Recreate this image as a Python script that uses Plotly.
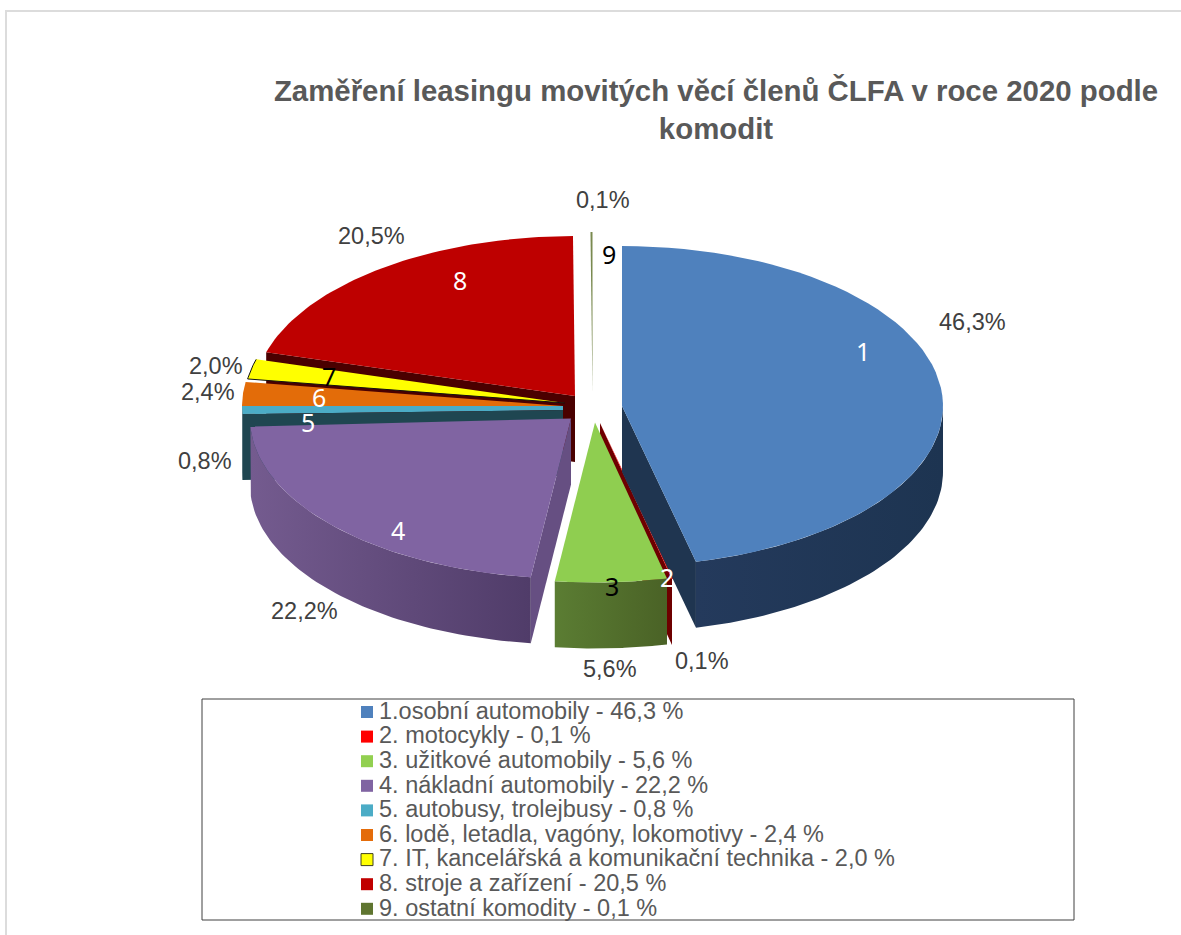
"""Zaměření leasingu movitých věcí členů ČLFA v roce 2020 - 3D koláč."""
import math

import plotly.graph_objects as go

TITLE = "Zaměření leasingu movitých věcí členů ČLFA v roce 2020 podle<br>komodit"

names = [
    "1.osobní automobily",
    "2. motocykly",
    "3. užitkové automobily",
    "4. nákladní automobily",
    "5. autobusy, trolejbusy",
    "6. lodě, letadla, vagóny, lokomotivy",
    "7. IT, kancelářská a komunikační technika",
    "8. stroje a zařízení",
    "9. ostatní komodity",
]
numbers = ["1", "2", "3", "4", "5", "6", "7", "8", "9"]
shares = [46.3, 0.1, 5.6, 22.2, 0.8, 2.4, 2.0, 20.5, 0.1]

top_colors = ["#4F81BD", "#FF0000", "#8FCE50", "#8064A2", "#4BACC6",
              "#E36C09", "#FFFF00", "#BE0000", "#7A8A50"]
swatch_colors = ["#4F81BD", "#FF0000", "#92D050", "#8064A2", "#4BACC6",
                 "#E46C0A", "#FFFF00", "#C00000", "#5F7530"]
number_colors = ["white", "white", "black", "white", "white",
                 "white", "black", "white", "black"]

# geometry of the exploded pie, in page pixels
RX, RY, DEPTH = 321, 160, 66
apex_x = [622, 600, 595, 571, 563, 563, 565, 575, 592.5]
apex_y = [406, 423, 422.5, 418.5, 406, 406, 403, 396, 392]
pct_pos = [(972, 322), (702, 661), (610, 669), (304, 611), (205, 461),
           (208, 392), (216, 366), (371, 236), (603, 200)]
num_pos = [(863, 351), (667, 577), (612, 586), (398, 530), (308, 422),
           (319, 397), (329, 376), (460, 280), (609, 254)]

GREY = "#595959"
LABEL_FONT = dict(family="Liberation Sans", size=23.5, color="#404040")


def rim(i, deg):
    a = math.radians(deg)
    return apex_x[i] + RX * math.sin(a), apex_y[i] - RY * math.cos(a)


def arc(i, d0, d1, n=60):
    return [rim(i, d0 + (d1 - d0) * k / n) for k in range(n + 1)]


def poly(fig, pts, color):
    xs = [p[0] for p in pts] + [pts[0][0]]
    ys = [p[1] for p in pts] + [pts[0][1]]
    fig.add_trace(go.Scatter(
        x=xs, y=ys, mode="lines", fill="toself", fillcolor=color,
        line=dict(color=color, width=0),
        hoverinfo="skip", showlegend=False,
    ))


def top(fig, i):
    poly(fig, [(apex_x[i], apex_y[i])] + arc(i, starts[i], ends[i]), top_colors[i])


def cut_wall(fig, i, deg, color, drop=0):
    x0, y0 = apex_x[i], apex_y[i] + drop
    x1, y1 = rim(i, deg)
    poly(fig, [(x0, y0), (x1, y1), (x1, y1 + DEPTH), (x0, y0 + DEPTH)], color)


def front_wall(fig, i, c_left, c_right):
    # visible part of the outer wall, shaded from left to right
    d0, d1 = max(starts[i], 90), min(ends[i], 270)
    pts = arc(i, d0, d1)
    pts = pts + [(x, y + DEPTH) for x, y in reversed(pts)]
    fig.add_trace(go.Scatter(
        x=[p[0] for p in pts] + [pts[0][0]],
        y=[p[1] for p in pts] + [pts[0][1]],
        mode="lines", fill="toself", line=dict(width=0),
        fillgradient=dict(type="horizontal", colorscale=[[0, c_left], [1, c_right]]),
        hoverinfo="skip", showlegend=False,
    ))


starts, ends = [], []
run = 0.0
for s in shares:
    starts.append(run * 3.6)
    run += s
    ends.append(run * 3.6)

fig = go.Figure()

# back group: 8, 9, then the thin slices in front of the wall of 8
cut_wall(fig, 7, starts[7], "#4A0000")
top(fig, 7)
top(fig, 8)
top(fig, 6)
# 7 only has its dark edge on the lower and left side
edge = [(apex_x[6], apex_y[6])] + arc(6, starts[6], ends[6], 12)
fig.add_trace(go.Scatter(
    x=[p[0] for p in edge], y=[p[1] for p in edge], mode="lines",
    line=dict(color="#111111", width=1), hoverinfo="skip", showlegend=False,
))
top(fig, 5)
# 5 keeps a visible band right up to the centre
BAND = 4
rim5 = arc(4, starts[4], ends[4], 8)
poly(fig, [(apex_x[4], apex_y[4]), (apex_x[4], apex_y[4] + BAND)] + rim5, top_colors[4])
cut_wall(fig, 4, starts[4], "#1F4651", drop=BAND)
front_wall(fig, 4, "#1F4651", "#1F4651")

# 4 - purple
cut_wall(fig, 3, starts[3], "#664F82")
front_wall(fig, 3, "#745B8F", "#503C69")
top(fig, 3)

# 2 - red sliver behind 3
cut_wall(fig, 1, ends[1], "#6E0000")
top(fig, 1)

# 3 - green
front_wall(fig, 2, "#5B7D33", "#4A6226")
top(fig, 2)

# 1 - blue
cut_wall(fig, 0, ends[0], "#1F3550")
front_wall(fig, 0, "#243A5C", "#1D3451")
top(fig, 0)

# percentage labels and slice numbers
for i, share in enumerate(shares):
    pct = f"{share:.1f}%".replace(".", ",")
    fig.add_annotation(x=pct_pos[i][0], y=pct_pos[i][1], text=pct, showarrow=False,
                       font=LABEL_FONT)
    fig.add_annotation(x=num_pos[i][0], y=num_pos[i][1], text=numbers[i], showarrow=False,
                       font=dict(family="Noto Sans", size=25, color=number_colors[i]))

# legend: frame, swatches, texts
LEG_X, LEG_Y, LEG_STEP = 367, 712, 24.6
legend_text = [f"{n} - " + f"{s:.1f}".replace(".", ",") + " %" for n, s in zip(names, shares)]
leg_y = [LEG_Y + LEG_STEP * k for k in range(len(names))]
fig.add_shape(type="rect", x0=202, y0=699, x1=1074, y1=920,
              line=dict(color="#404040", width=1), fillcolor="white", layer="below")
fig.add_trace(go.Scatter(
    x=[LEG_X] * len(names), y=leg_y, mode="markers",
    marker=dict(symbol="square", size=12, color=swatch_colors,
                line=dict(color=["rgba(0,0,0,0)"] * 6 + ["#404020"] + ["rgba(0,0,0,0)"] * 2, width=1)),
    hoverinfo="skip", showlegend=False,
))
fig.add_trace(go.Scatter(
    x=[LEG_X + 12] * len(names), y=[v + 1 for v in leg_y], mode="text",
    text=legend_text, textposition="middle right",
    textfont=dict(family="Liberation Sans", size=23.5, color=GREY),
    hoverinfo="skip", showlegend=False,
))

# outer chart frame, open to the right and bottom of the page
fig.add_shape(type="rect", x0=6, y0=11, x1=1300, y1=1100,
              line=dict(color="#DCDCDC", width=2), layer="below")

fig.update_layout(
    width=1181, height=935,
    margin=dict(l=0, r=0, t=0, b=0),
    paper_bgcolor="white", plot_bgcolor="white",
    showlegend=False,
    title=dict(text=TITLE, x=716 / 1181, xanchor="center", y=0.892, yref="container",
               yanchor="top",
               font=dict(family="Liberation Sans", size=29.4, color=GREY, weight="bold")),
    xaxis=dict(range=[0, 1181], visible=False, fixedrange=True),
    yaxis=dict(range=[935, 0], visible=False, fixedrange=True),
)

fig.write_html("out.html", config=dict(displayModeBar=False),
               post_script="document.body.style.margin = '0';")
